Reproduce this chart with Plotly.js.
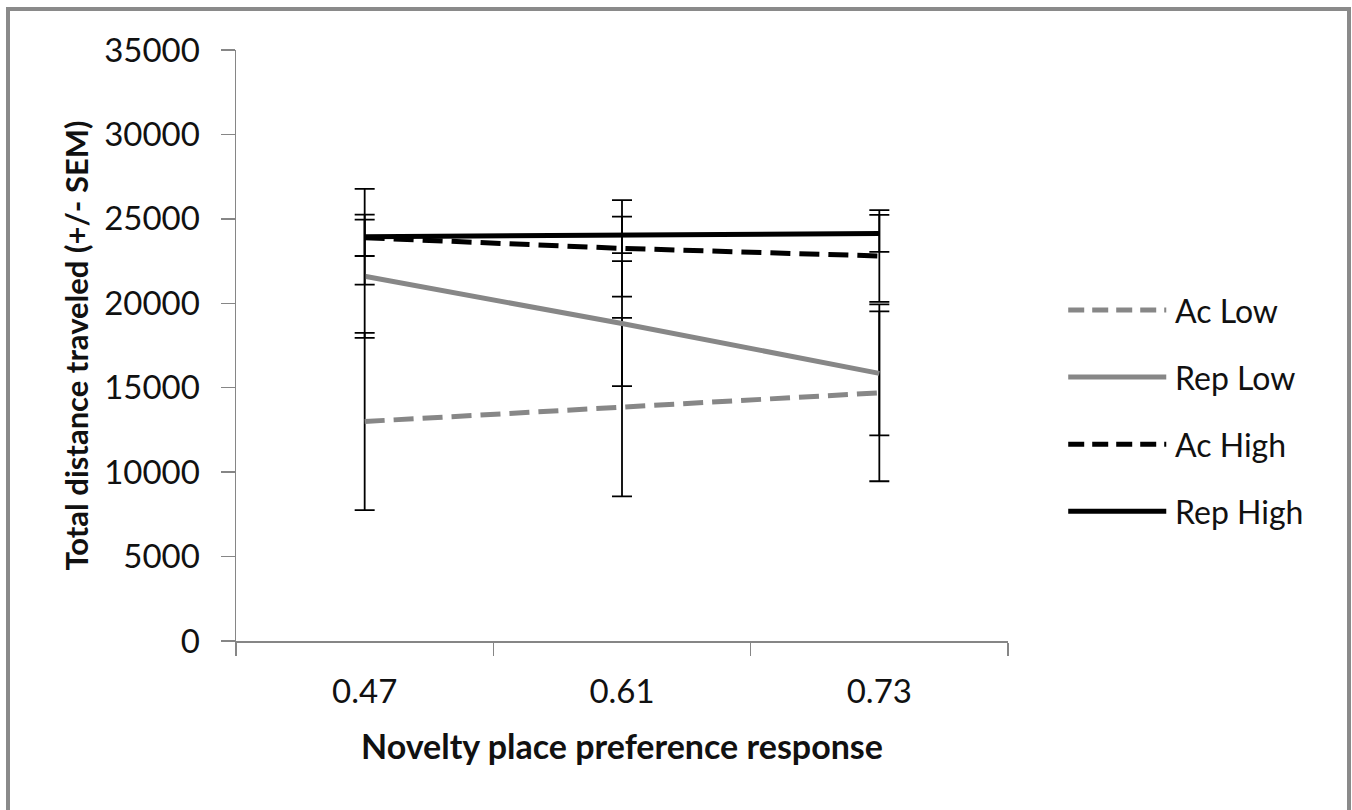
<!DOCTYPE html>
<html>
<head>
<meta charset="utf-8">
<script src="https://cdn.plot.ly/plotly-3.0.1.min.js"></script>
<style>
  html, body { margin: 0; padding: 0; background: #fff; }
  #wrap { position: relative; width: 1352px; height: 810px; overflow: hidden; }
  #frame { position: absolute; left: 6px; top: 7px; width: 1345px; height: 820px;
           border-left: 4px solid #8a8a8a; border-top: 4px solid #8a8a8a; border-right: 4px solid #8a8a8a; box-sizing: border-box; }
  #chart { position: absolute; left: 0; top: 0; width: 1352px; height: 810px; }
</style>
</head>
<body>
<div id="wrap">
  <div id="frame"></div>
  <div id="chart"></div>
</div>
<script>
// ---- data ----
const categories = ["0.47", "0.61", "0.73"];
const seriesNames = ["Ac Low", "Rep Low", "Ac High", "Rep High"];
const acLow   = [13000, 13850, 14700];
const repLow  = [21600, 18800, 15850];
const acHigh  = [23880, 23250, 22800];
const repHigh = [23940, 24050, 24140];
const acLowErr   = [5250, 5290, 5240];
const repLowErr  = [3650, 3700, 3670];
const acHighErr  = [1080, 2860, 2720];
const repHighErr = [2830, 1080, 1100];
const yTicks = [0, 5000, 10000, 15000, 20000, 25000, 30000, 35000];

// ---- styles ----
const FONT = "Lato, 'Liberation Sans', sans-serif";
const styles = [
  { color: "#878787", dash: "20px,9px" },
  { color: "#878787", dash: "solid" },
  { color: "#000000", dash: "20px,9px" },
  { color: "#000000", dash: "solid" }
];
const values = [acLow, repLow, acHigh, repHigh];
const errs = [acLowErr, repLowErr, acHighErr, repHighErr];

const traces = seriesNames.map((name, i) => ({
  type: "scatter",
  mode: "lines",
  name: name,
  x: categories,
  y: values[i],
  line: { color: styles[i].color, width: 5, dash: styles[i].dash },
  error_y: { type: "data", array: errs[i], visible: true, color: "#000", thickness: 1.8, width: 10 },
  showlegend: false,
  hoverinfo: "skip"
}));

// custom legend (long line samples like the reference)
const shapes = [];
const annotations = [];
const legTop = 0.560, legStep = 0.1135;
seriesNames.forEach((name, i) => {
  const yy = legTop - i * legStep;
  shapes.push({
    type: "line", xref: "paper", yref: "paper",
    x0: 1.078, x1: 1.205, y0: yy, y1: yy,
    line: { color: styles[i].color, width: 5, dash: styles[i].dash === "solid" ? "solid" : "16px,8px" }
  });
  annotations.push({
    xref: "paper", yref: "paper", x: 1.214, y: yy,
    xanchor: "left", yanchor: "middle", showarrow: false,
    text: name, font: { family: FONT, size: 32, color: "#111" }
  });
});

const layout = {
  width: 1352, height: 810,
  margin: { l: 236, r: 344, t: 50, b: 169 },
  paper_bgcolor: "rgba(0,0,0,0)",
  plot_bgcolor: "rgba(0,0,0,0)",
  showlegend: false,
  font: { family: FONT, color: "#111" },
  xaxis: {
    type: "category",
    range: [-0.5, 2.5],
    tickvals: categories,
    ticktext: categories,
    tickson: "boundaries",
    ticks: "outside", ticklen: 13, tickwidth: 1.5, tickcolor: "#868686",
    showline: true, linecolor: "#868686", linewidth: 1.5,
    showgrid: false, zeroline: false,
    ticklabelstandoff: 21,
    tickfont: { family: FONT, size: 33, color: "#111" },
    title: { text: "Novelty place preference response", standoff: 26,
             font: { family: FONT, size: 34, color: "#111", weight: "bold" } },
    fixedrange: true
  },
  yaxis: {
    range: [0, 35000],
    tickvals: yTicks,
    ticktext: yTicks.map(String),
    ticks: "outside", ticklen: 14, tickwidth: 1.5, tickcolor: "#868686",
    showline: true, linecolor: "#868686", linewidth: 1.5,
    showgrid: false, zeroline: false,
    ticklabelstandoff: 14,
    tickfont: { family: FONT, size: 33, color: "#111" },
    title: { text: "Total distance traveled (+/- SEM)", standoff: 6,
             font: { family: FONT, size: 31, color: "#111", weight: "bold" } },
    fixedrange: true
  },
  shapes: shapes,
  annotations: annotations
};

Plotly.newPlot("chart", traces, layout, { displayModeBar: false, staticPlot: true });
</script>
</body>
</html>
